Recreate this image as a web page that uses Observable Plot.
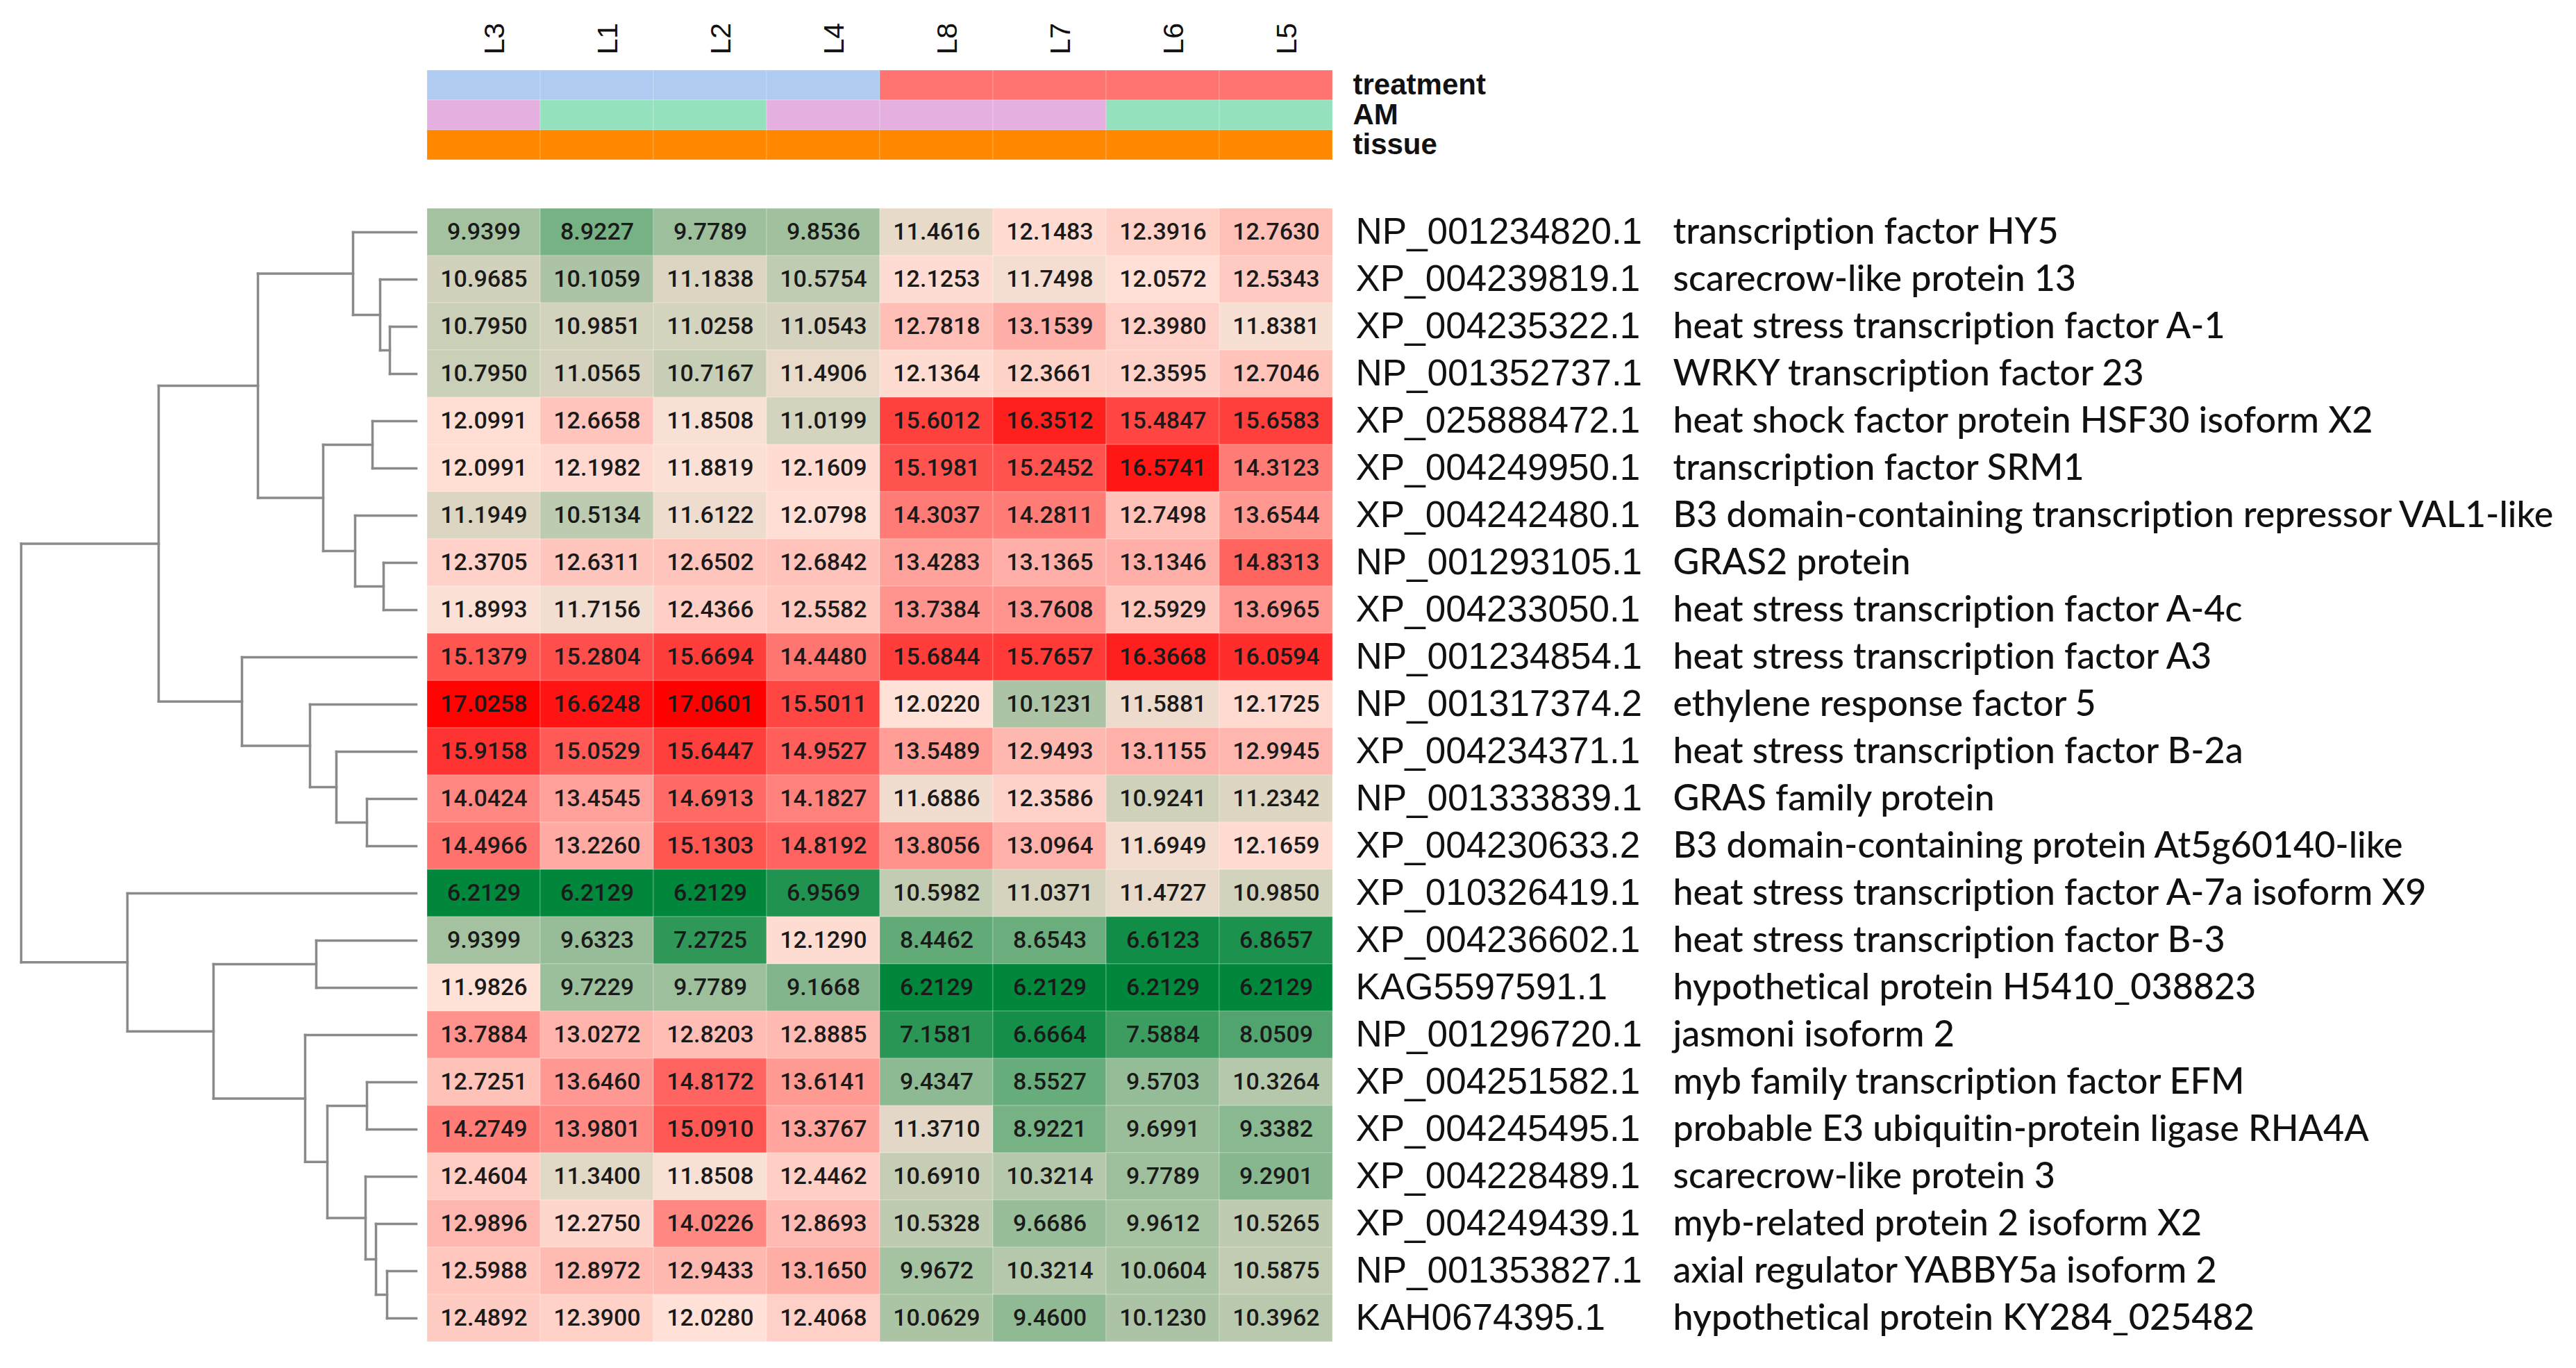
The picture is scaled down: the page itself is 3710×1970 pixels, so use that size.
<!DOCTYPE html>
<html>
<head>
<meta charset="utf-8">
<script src="https://cdn.jsdelivr.net/npm/d3@7"></script>
<script src="https://cdn.jsdelivr.net/npm/@observablehq/plot@0.6"></script>
<style>
  html, body { margin: 0; padding: 0; background: #fff; }
  #chart { position: relative; width: 3710px; height: 1970px; background: #fff; overflow: hidden; }
  #chart .panel { position: absolute; }
  #chart svg text { font-variant-ligatures: none; font-feature-settings: "liga" 0, "clig" 0; }
</style>
</head>
<body>
<div id="chart"></div>
<script>
// ---------------- data ----------------
const samples = ["L3", "L1", "L2", "L4", "L8", "L7", "L6", "L5"];

const treatment = ["T1", "T1", "T1", "T1", "T2", "T2", "T2", "T2"];
const am        = ["A", "B", "B", "A", "A", "A", "B", "B"];
const tissue    = ["root", "root", "root", "root", "root", "root", "root", "root"];
const annotationTracks = ["treatment", "AM", "tissue"];

const geneIds = [
  "NP_001234820.1", "XP_004239819.1", "XP_004235322.1", "NP_001352737.1",
  "XP_025888472.1", "XP_004249950.1", "XP_004242480.1", "NP_001293105.1",
  "XP_004233050.1", "NP_001234854.1", "NP_001317374.2", "XP_004234371.1",
  "NP_001333839.1", "XP_004230633.2", "XP_010326419.1", "XP_004236602.1",
  "KAG5597591.1", "NP_001296720.1", "XP_004251582.1", "XP_004245495.1",
  "XP_004228489.1", "XP_004249439.1", "NP_001353827.1", "KAH0674395.1"
];

const geneNames = [
  "transcription factor HY5",
  "scarecrow-like protein 13",
  "heat stress transcription factor A-1",
  "WRKY transcription factor 23",
  "heat shock factor protein HSF30 isoform X2",
  "transcription factor SRM1",
  "B3 domain-containing transcription repressor VAL1-like",
  "GRAS2 protein",
  "heat stress transcription factor A-4c",
  "heat stress transcription factor A3",
  "ethylene response factor 5",
  "heat stress transcription factor B-2a",
  "GRAS family protein",
  "B3 domain-containing protein At5g60140-like",
  "heat stress transcription factor A-7a isoform X9",
  "heat stress transcription factor B-3",
  "hypothetical protein H5410_038823",
  "jasmoni isoform 2",
  "myb family transcription factor EFM",
  "probable E3 ubiquitin-protein ligase RHA4A",
  "scarecrow-like protein 3",
  "myb-related protein 2 isoform X2",
  "axial regulator YABBY5a isoform 2",
  "hypothetical protein KY284_025482"
];

// rows follow geneIds, columns follow samples
const expression = [
  [ 9.9399,  8.9227,  9.7789,  9.8536, 11.4616, 12.1483, 12.3916, 12.7630],
  [10.9685, 10.1059, 11.1838, 10.5754, 12.1253, 11.7498, 12.0572, 12.5343],
  [10.7950, 10.9851, 11.0258, 11.0543, 12.7818, 13.1539, 12.3980, 11.8381],
  [10.7950, 11.0565, 10.7167, 11.4906, 12.1364, 12.3661, 12.3595, 12.7046],
  [12.0991, 12.6658, 11.8508, 11.0199, 15.6012, 16.3512, 15.4847, 15.6583],
  [12.0991, 12.1982, 11.8819, 12.1609, 15.1981, 15.2452, 16.5741, 14.3123],
  [11.1949, 10.5134, 11.6122, 12.0798, 14.3037, 14.2811, 12.7498, 13.6544],
  [12.3705, 12.6311, 12.6502, 12.6842, 13.4283, 13.1365, 13.1346, 14.8313],
  [11.8993, 11.7156, 12.4366, 12.5582, 13.7384, 13.7608, 12.5929, 13.6965],
  [15.1379, 15.2804, 15.6694, 14.4480, 15.6844, 15.7657, 16.3668, 16.0594],
  [17.0258, 16.6248, 17.0601, 15.5011, 12.0220, 10.1231, 11.5881, 12.1725],
  [15.9158, 15.0529, 15.6447, 14.9527, 13.5489, 12.9493, 13.1155, 12.9945],
  [14.0424, 13.4545, 14.6913, 14.1827, 11.6886, 12.3586, 10.9241, 11.2342],
  [14.4966, 13.2260, 15.1303, 14.8192, 13.8056, 13.0964, 11.6949, 12.1659],
  [ 6.2129,  6.2129,  6.2129,  6.9569, 10.5982, 11.0371, 11.4727, 10.9850],
  [ 9.9399,  9.6323,  7.2725, 12.1290,  8.4462,  8.6543,  6.6123,  6.8657],
  [11.9826,  9.7229,  9.7789,  9.1668,  6.2129,  6.2129,  6.2129,  6.2129],
  [13.7884, 13.0272, 12.8203, 12.8885,  7.1581,  6.6664,  7.5884,  8.0509],
  [12.7251, 13.6460, 14.8172, 13.6141,  9.4347,  8.5527,  9.5703, 10.3264],
  [14.2749, 13.9801, 15.0910, 13.3767, 11.3710,  8.9221,  9.6991,  9.3382],
  [12.4604, 11.3400, 11.8508, 12.4462, 10.6910, 10.3214,  9.7789,  9.2901],
  [12.9896, 12.2750, 14.0226, 12.8693, 10.5328,  9.6686,  9.9612, 10.5265],
  [12.5988, 12.8972, 12.9433, 13.1650,  9.9672, 10.3214, 10.0604, 10.5875],
  [12.4892, 12.3900, 12.0280, 12.4068, 10.0629,  9.4600, 10.1230, 10.3962]
];

// row dendrogram: [left, right, height]; numbers are row indices, "mK" refers to merge K
const rowMerges = [
  [2, 3, 38], [1, "m0", 52], [0, "m1", 91],
  [4, 5, 63], [7, 8, 47], [6, "m4", 88], ["m3", "m5", 134], ["m2", "m6", 228],
  [12, 13, 71], [11, "m8", 115], [10, "m9", 153], [9, "m10", 251], ["m7", "m11", 371],
  [15, 16, 144], [18, 19, 71], [22, 23, 42], [21, "m15", 58], [20, "m16", 73],
  ["m14", "m17", 128], [17, "m18", 160], ["m13", "m19", 292], [14, "m20", 416],
  ["m12", "m21", 569]
];

// ---------------- layout / style ----------------
const W = 3710, H = 1970;
const heatLeft = 613, heatRight = 1921, heatTop = 300, heatBottom = 1932;
const annTop = 100, annBottom = 230;

const annColors = {
  "treatment:T1": "#afcbf2", "treatment:T2": "#ff7470",
  "AM:A": "#e5b0e0", "AM:B": "#93e2bd",
  "tissue:root": "#ff8800"
};

const labelFont = "Liberation Sans, Arial, Helvetica, sans-serif";

// ---------------- derived tables ----------------
const cells = [];
geneIds.forEach((g, i) => samples.forEach((s, j) => cells.push({gene: g, sample: s, value: expression[i][j]})));

const annCells = [];
samples.forEach((s, j) => {
  annCells.push({sample: s, track: "treatment", key: "treatment:" + treatment[j]});
  annCells.push({sample: s, track: "AM", key: "AM:" + am[j]});
  annCells.push({sample: s, track: "tissue", key: "tissue:" + tissue[j]});
});

// dendrogram segments
const nodes = [];
const getNode = (ref) => typeof ref === "number" ? {y: ref + 0.5, h: 0} : nodes[+ref.slice(1)];
const segments = [];
rowMerges.forEach(([a, b, h]) => {
  const na = getNode(a), nb = getNode(b);
  segments.push({x1: h, y1: na.y, x2: h, y2: nb.y});
  segments.push({x1: na.h, y1: na.y, x2: h, y2: na.y});
  segments.push({x1: nb.h, y1: nb.y, x2: h, y2: nb.y});
  nodes.push({y: (na.y + nb.y) / 2, h});
});
const maxH = d3.max(rowMerges, d => d[2]);

// ---------------- plots ----------------
const chart = document.getElementById("chart");
function place(svg, left, top) {
  const wrap = document.createElement("div");
  wrap.className = "panel";
  wrap.style.left = left + "px";
  wrap.style.top = top + "px";
  wrap.appendChild(svg);
  chart.appendChild(wrap);
}

// annotation header with column labels
const annPlot = Plot.plot({
  width: W, height: annBottom,
  marginLeft: heatLeft, marginRight: W - heatRight, marginTop: annTop, marginBottom: 0,
  style: {background: "transparent", fontFamily: labelFont},
  x: {type: "band", domain: samples, padding: 0, axis: null},
  y: {type: "band", domain: annotationTracks, padding: 0, axis: null},
  color: {type: "ordinal", domain: Object.keys(annColors), range: Object.values(annColors)},
  marks: [
    Plot.cell(annCells, {x: "sample", y: "track", fill: "key", inset: 0, stroke: "#ffffff", strokeOpacity: 0.25, strokeWidth: 1}),
    Plot.text(samples, {x: d => d, frameAnchor: "top", dy: -22, rotate: -90, textAnchor: "start",
      text: d => d, fontSize: 41, fill: "#111", fontFamily: labelFont}),
    Plot.text(annotationTracks, {y: d => d, frameAnchor: "right", dx: 27, textAnchor: "start",
      text: d => d, fontSize: 42, fontWeight: "bold", fill: "#111", fontFamily: labelFont})
  ]
});
place(annPlot, 0, 0);

// heatmap with row labels
const heatPlot = Plot.plot({
  width: W, height: heatBottom - heatTop,
  marginLeft: heatLeft, marginRight: W - heatRight, marginTop: 0, marginBottom: 0,
  style: {background: "transparent", fontFamily: "Roboto, sans-serif", fontVariantLigatures: "none"},
  x: {type: "band", domain: samples, padding: 0, axis: null},
  y: {type: "band", domain: geneIds, padding: 0, axis: null},
  color: {type: "linear", domain: [6.2129, 12.0, 17.0601], range: ["#00873c", "#ffe2d8", "#ff0000"], interpolate: "rgb"},
  marks: [
    Plot.cell(cells, {x: "sample", y: "gene", fill: "value", inset: 0, stroke: "#ffffff", strokeOpacity: 0.3, strokeWidth: 1}),
    Plot.text(cells, {x: "sample", y: "gene", text: d => d.value.toFixed(4), fontSize: 34, fontWeight: 500,
      fill: "#1a1a1a", fontFamily: "Roboto, sans-serif"}),
    Plot.text(geneIds, {y: d => d, frameAnchor: "right", dx: 31, textAnchor: "start", text: d => d,
      fontSize: 53, fill: "#111", fontFamily: labelFont}),
    Plot.text(geneIds, {y: d => d, frameAnchor: "right", dx: 488, textAnchor: "start",
      text: (d, i) => geneNames[i], fontSize: 52, fontWeight: 500, fill: "#111", fontFamily: "Lato, sans-serif"})
  ]
});
place(heatPlot, 0, heatTop);

// row dendrogram
const dendroPlot = Plot.plot({
  width: heatLeft, height: heatBottom - heatTop,
  marginLeft: 30, marginRight: 14, marginTop: 0, marginBottom: 0,
  style: {background: "transparent"},
  x: {type: "linear", domain: [maxH, 0], axis: null},
  y: {type: "linear", domain: [0, geneIds.length], reverse: true, axis: null},
  marks: [
    Plot.link(segments, {x1: "x1", y1: "y1", x2: "x2", y2: "y2", stroke: "#8a8a8a", strokeWidth: 3.5, strokeLinecap: "square"})
  ]
});
place(dendroPlot, 0, heatTop);
</script>
</body>
</html>
